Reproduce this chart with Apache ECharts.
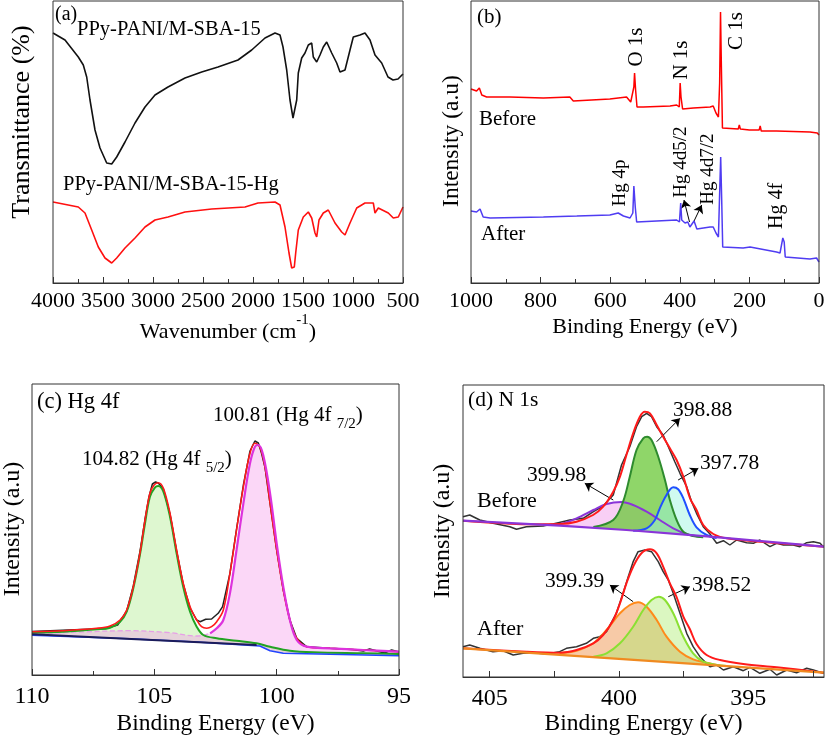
<!DOCTYPE html>
<html><head><meta charset="utf-8">
<script src="https://cdn.jsdelivr.net/npm/echarts@6/dist/echarts.min.js"></script>
<style>html,body{margin:0;padding:0;background:#fff}#c{width:827px;height:738px}</style>
</head><body><div id="c"></div>
<script>
// ---------- (a) FTIR ----------
const ftirWave = [4000,3880,3747,3697,3663,3630,3580,3530,3463,3413,3363,3280,3180,3080,2980,2850,2680,2513,2350,2150,2013,1880,1780,1730,1700,1663,1630,1600,1563,1547,1513,1480,1447,1413,1397,1363,1330,1297,1263,1213,1163,1130,1080,1030,997,930,880,830,780,713,650,600,550,500];
const ftirBefore = [250,243,226,218,206,183,153,135,120,119,126,141,160,176,188,196,205,211,216,223,233,245,250,248,236,213,183,165,183,210,225,230,238,240,226,221,228,236,241,230,220,211,213,233,246,248,250,243,228,220,206,203,204,209];
const ftirWaveHg = [4000,3747,3680,3613,3547,3480,3413,3363,3280,3180,3080,2980,2850,2680,2413,2080,1950,1780,1730,1680,1640,1613,1587,1573,1547,1497,1447,1413,1380,1363,1340,1297,1247,1180,1113,1080,1030,963,880,797,780,747,647,597,547,500];
const ftirAfter = [81,76,70,53,36,25,20,25,35,45,56,63,66,71,74,76,80,81,78,56,30,15,16,30,53,66,71,65,50,46,63,70,73,60,51,48,60,75,80,80,70,75,70,65,66,76];

// ---------- (b) XPS survey ----------
const surveyBeforeE = [1000,984,976,969,955,888,792,716,706,601,553,541,532,530,527,523,505,428,409,401.5,399,396.5,392,361,313,304,296,289,285.5,283,280.5,277.5,232,229,226,200,172,169,166,122,26,5,0];
const surveyBefore  = [194,192,195,188,186,186,185,186,182,184,186,181,196,210,193,176,176,177,178,176,200,186,174,175,176,177,170,166,200,271,216,155,154,158,154,153,153,157,152,152,151,150,148];
const surveyAfterE = [1000,984,974,965,945,792,696,601,577,562,543,535,532,528,524,409,401,397.4,394.5,385,377,371,359,351,313,304,296,289,285,282.5,279.6,276.7,218,198,122,112,107,104,100,97,26,7,0];
const surveyAfter  = [72,71,74,66,65,66,67,68,70,67,65,70,97,76,61,63,61,80,63,60,61,56,62,54,56,56,50,46,96,126,83,36,35,36,31,30,30,45,41,26,24,25,21];
const surveyArrowsE = [[372,388],[359,337]];
const surveyArrowsV = [[61,83],[62,78]];

// ---------- (c) Hg 4f ----------
const hgEnvE = [110,108.72,107.36,106.81,106.40,106.13,105.86,105.59,105.38,105.18,105.01,104.84,104.63,104.36,104.09,103.82,103.54,103.27,103.07,102.86,102.66,102.45,102.18,101.91,101.64,101.36,101.09,100.89,100.69,100.48,100.27,100.0,99.73,99.46,99.18,98.77,97.82,96.46,95];
const hgEnv  = [43.3,44.3,46.7,49,55,65,88.3,121.7,155,181.7,190,192.3,186.7,161.7,125,91.7,68.3,55,48.3,46.7,48.3,53.3,65,101.7,145,188.3,221.7,231.7,228.3,208.3,171.7,125,85,55,36.7,28.3,26.7,25,23.3];
const hgRawE = [110,108.5,107.0,106.5,106.13,105.86,105.59,105.38,105.22,105.08,104.95,104.84,104.63,104.36,104.09,103.82,103.54,103.27,103.13,102.9,102.66,102.39,102.21,101.91,101.64,101.36,101.09,100.89,100.75,100.62,100.48,100.27,100.0,99.73,99.46,99.18,98.77,97.82,96.9,96.46,96.2,95.6,95.3,95];
const hgRaw  = [43.5,45,46.5,50,64,89,123,156,178,191,193,192,186,161,124,91,67,55,53.3,55.7,56,61.7,68.3,101.7,146,190,224,234,232,222,208,171.7,125,85,55,36.7,28.3,26.7,25.5,24,26,22,25,23];
const hg52E = [110,108.72,107.36,106.81,106.40,106.13,105.86,105.59,105.38,105.18,104.97,104.84,104.63,104.36,104.09,103.82,103.54,103.27,103.0,102.45,101.64,100.82,100.27,99.46,98.5,96.46,95];
const hg52  = [42.3,43.3,45.7,47.3,53.3,63.3,86.7,120,151.7,178.3,187.7,189,183.3,158.3,121.7,88.3,63.3,48.3,40,36.7,34.3,31.7,28.3,24.3,22.7,21.7,21];
const hg72TailE = [110,108.04,106.0,104.36,103.27,102.72,102.45];
const hg72Tail  = [41,43,44.3,42.3,39,41.7,46.7];
const hg72E = [102.72,102.45,102.18,101.91,101.64,101.36,101.09,100.89,100.75,100.55,100.27,100.0,99.73,99.46,99.18,98.77,97.82,96.46,95];
const hg72  = [41.7,46.7,55,81.7,125,171.7,211.7,228.3,230,220,181.7,131.7,88.3,55,35,28.3,26.7,25,23.3];
const hgBgE = [110,106.0,103.27,100.69,100.27,99.73,97.82,95];
const hgBg  = [39.7,36.3,33,29,24.3,21.7,20.7,19.3];
const hgDarkE = [110,100.82];
const hgDark  = [40.7,30];

// ---------- (d) N 1s ----------
const dTickValues = [392.5,395,397.5,400,402.5,405];
const dTickLabels = [395,400,405];
const nBeforeBaseE = [406.03,402.29,399.71,396.48,392.07];
const nBeforeBase  = [156.3,151.3,147,140.3,130.3];
const nBeforeEnvE = [406.03,404.87,403.58,402.29,401.64,401.00,400.61,400.22,399.96,399.71,399.45,399.19,399.0,398.80,398.54,398.29,398.03,397.77,397.51,397.25,397.0,396.74,396.35,395.83,394.54,393.25,392.07];
const nBeforeEnv  = [156.3,154.3,152.7,153,155.3,162,170.3,185.3,200.3,222,243.7,260.3,265.3,263.7,252,240.3,228.7,217,200.3,178.7,167,152,143,138.7,135.3,132.7,130.3];
const nBeforeRawE = [406.03,405.77,405.38,404.87,404.22,403.96,403.58,402.93,402.55,401.90,401.38,400.99,400.61,400.22,399.90,399.83,399.58,399.32,399.12,398.93,398.74,398.54,398.29,398.09,397.84,397.64,397.38,397.19,397.00,396.74,396.48,396.22,395.96,395.71,395.45,395.06,394.80,394.55,394.16,393.90,393.64,393.26,393.00,392.74,392.48,392.22,392.10];
const nBeforeRaw  = [160.3,162,157,153.7,150.3,147.7,150.3,151,153,157,158.7,165.3,171,182,212,210.3,230.3,250.3,260.3,263.7,260.3,250.3,242,230.3,215.3,203.7,190.3,175.3,163.7,150.3,143,133.7,136.3,132,137,134.3,133.7,137,130.3,133.7,132,132,130.3,134.3,135.3,133.7,130.3];
const n39998E = [402.93,402.29,401.64,400.99,400.48,399.90,399.45,398.93,398.42,397.90,397.38,396.87];
const n39998  = [152.3,153,158.7,167,173,175,172,165.3,157,148.7,143,140.3];
const n39888E = [400.99,400.22,399.84,399.58,399.32,399.06,398.91,398.74,398.48,398.22,398.03,397.77,397.51,397.13,396.74];
const n39888  = [150,157,175.3,200.3,227,238.7,240.3,237,220.3,197,177,157,145.3,141,139.7];
const n39778E = [399.45,398.93,398.61,398.42,398.16,397.90,397.71,397.51,397.26,397.00,396.61,396.22];
const n39778  = [146.3,148.7,157,168.7,182,189.7,187.7,178.7,162,149.7,142,139];
const nAfterBaseE = [406.03,399.71,392.07];
const nAfterBase  = [28.7,17.7,4.3];
const nAfterEnvE = [406.03,403.58,402.29,401.64,400.99,400.61,400.22,399.96,399.71,399.45,399.13,398.80,398.54,398.29,398.03,397.77,397.51,397.26,397.00,396.61,396.09,395.19,393.90,392.07];
const nAfterEnv  = [28.7,25.3,24.3,27,33.7,42,57,73.7,93.7,110.3,123.7,127.7,123.7,110.3,93.7,80,60.3,48,33,22,17,13,9.7,4.3];
const nAfterRawE = [406.03,405.77,405.38,404.87,404.48,404.09,403.71,403.32,402.80,402.29,402.03,401.64,401.26,400.99,400.74,400.48,400.10,399.84,399.64,399.45,399.26,399.0,398.74,398.48,398.29,398.09,397.90,397.64,397.38,397.13,396.87,396.48,396.22,395.96,395.58,395.19,394.93,394.55,394.16,393.90,393.51,393.13,392.74,392.48,392.10];
const nAfterRaw  = [30.3,32,28.7,25.3,26.3,22,23.7,24.3,23,25.3,28.7,30.3,33.7,38.7,40.3,45.3,63.7,83.7,100.3,115.3,125.3,127,125.3,115.3,105.3,97,83.7,63.7,43.7,30.3,20.3,10.3,12,7,10.3,6.3,9.7,3.7,7.7,2,7,4.3,8.7,7,3.7];
const n39939E = [402.29,401.64,400.99,400.48,399.96,399.58,399.26,398.93,398.54,398.16,397.64,397.13,396.61,396.09];
const n39939  = [24,26.3,33.7,47,63.7,72,74.7,70.3,57,40.3,25.3,17.7,14.3,11.3];
const n39852E = [400.99,400.48,399.96,399.45,399.06,398.74,398.46,398.22,397.90,397.51,397.13,396.74,396.22,395.83];
const n39852  = [20.3,23.7,33.7,50.3,67,77,80.3,77,63.7,40.3,23.7,15.3,12,11];
const nArrowsE = [[398.54,397.64],[397.71,396.93],[400.22,401.32],[399.45,400.35],[398.09,397.26]];
const nArrowsV = [[235.3,258.7],[197,208.7],[177,193.7],[75.3,92],[80.3,90.3]];

// ---------- build ----------
const F = 'Liberation Serif';
const zip = (xs, ys) => xs.map((x, i) => [x, ys[i]]);
function line(gi, xs, ys, color, width, extra) {
  return Object.assign({type:'line', xAxisIndex:gi, yAxisIndex:gi, data:zip(xs, ys), symbol:'none', showSymbol:false,
    silent:true, animation:false, z:6, lineStyle:{color:color, width:width}, itemStyle:{color:color}}, extra || {});
}
function fill(gi, xs, ys, color, z, smooth) {
  return {type:'line', xAxisIndex:gi, yAxisIndex:gi, data:zip(xs, ys), symbol:'none', showSymbol:false, silent:true,
    animation:false, z:z, smooth:smooth, lineStyle:{width:0, opacity:0}, areaStyle:{color:color, opacity:1}};
}
function arrows(es, vs) {
  return {silent:true, symbol:['none','arrow'], symbolSize:8, animation:false,
    lineStyle:{color:'#000', width:1, type:'solid'}, label:{show:false},
    data: es.map((e, i) => [{coord:[e[0], vs[i][0]]}, {coord:[e[1], vs[i][1]]}])};
}
const S = 0.35;

const series = [
  line(0, ftirWave, ftirBefore, '#111', 1.6),
  line(0, ftirWaveHg, ftirAfter, '#ff1010', 1.6),
  line(1, surveyBeforeE, surveyBefore, '#ff0000', 1.5),
  line(1, surveyAfterE, surveyAfter, '#4f3cf2', 1.5, {markLine: arrows(surveyArrowsE, surveyArrowsV)}),
  fill(2, hg52E, hg52, 'rgba(160,232,120,0.35)', 2, S),
  fill(2, hg72TailE.concat(hg72E.slice(2)), hg72Tail.concat(hg72.slice(2)), 'rgba(245,150,235,0.38)', 2, S),
  fill(2, hgBgE, hgBg, '#ffffff', 3, false),
  line(2, hgRawE, hgRaw, '#222', 1.5),
  line(2, hg72TailE, hg72Tail, '#e6a0e6', 1.3, {smooth:S, lineStyle:{color:'#e6a0e6', width:1.3, type:'dashed'}}),
  line(2, hg52E, hg52, '#22a322', 2, {smooth:S}),
  line(2, hgEnvE, hgEnv, '#ff1a1a', 1.6, {smooth:S}),
  line(2, hg72E, hg72, '#dd33dd', 2.2, {smooth:S}),
  line(2, hgBgE, hgBg, '#2244ff', 1.5),
  line(2, hgDarkE, hgDark, '#1c1c5a', 2),
  fill(3, n39998E, n39998, 'rgba(242,160,235,0.5)', 2, S),
  fill(3, n39888E, n39888, 'rgba(105,200,55,0.75)', 2, S),
  fill(3, n39778E, n39778, 'rgba(160,245,225,0.5)', 2, S),
  fill(3, nBeforeBaseE, nBeforeBase, '#ffffff', 3, false),
  fill(3, n39939E, n39939, 'rgba(240,150,80,0.5)', 4, S),
  fill(3, n39852E, n39852, 'rgba(165,235,100,0.4)', 4, S),
  fill(3, nAfterBaseE, nAfterBase, '#ffffff', 5, false),
  line(3, nBeforeRawE, nBeforeRaw, '#333', 1.5),
  line(3, n39998E, n39998, '#8a35d8', 2, {smooth:S}),
  line(3, n39888E, n39888, '#2e8b2e', 2, {smooth:S}),
  line(3, n39778E, n39778, '#1f50ff', 2, {smooth:S}),
  line(3, nBeforeEnvE, nBeforeEnv, '#ff1a1a', 2, {smooth:S}),
  line(3, nBeforeBaseE, nBeforeBase, '#8a35d8', 2.2),
  line(3, nAfterRawE, nAfterRaw, '#333', 1.5),
  line(3, n39939E, n39939, '#ff8a1a', 2, {smooth:S}),
  line(3, n39852E, n39852, '#8ae033', 2, {smooth:S}),
  line(3, nAfterEnvE, nAfterEnv, '#ff1a1a', 2, {smooth:S}),
  line(3, nAfterBaseE, nAfterBase, '#f08a20', 2.2, {markLine: arrows(nArrowsE, nArrowsV)})
];

const plain = v => String(v);
function xAx(gi, o) {
  return Object.assign({
    type:'value', gridIndex:gi, inverse:true, z:20, nameLocation:'middle',
    nameTextStyle:{fontFamily:F, fontSize:o.nfs, color:'#000'},
    axisLine:{onZero:false, lineStyle:{color:'#333', width:1}},
    axisTick:{inside:true, length:6, lineStyle:{color:'#333'}},
    minorTick:{show:true, splitNumber:2, length:4, lineStyle:{color:'#333'}},
    splitLine:{show:false}, minorSplitLine:{show:false},
    axisLabel:{fontFamily:F, fontSize:o.fs, color:'#000', margin:o.margin, formatter:plain,
      showMinLabel:true, showMaxLabel:true, hideOverlap:false}
  }, o.extra);
}
const xAxis = [
  xAx(0, {fs:22, nfs:22, margin:7, extra:{min:500, max:4000, interval:500, nameGap:24,
    name:'{m|Wavenumber (cm}{sup|-1}{m|)}',
    nameTextStyle:{fontFamily:F, fontSize:22, color:'#000', rich:{
      m:{fontFamily:F, fontSize:22, color:'#000', lineHeight:30, verticalAlign:'bottom'},
      sup:{fontFamily:F, fontSize:15, color:'#000', lineHeight:14, verticalAlign:'top'}}}}}),
  xAx(1, {fs:22, nfs:22, margin:7, extra:{min:0, max:1000, interval:200, name:'Binding Energy (eV)', nameGap:33}}),
  xAx(2, {fs:24, nfs:23.5, margin:10, extra:{min:95, max:110, interval:5, name:'Binding Energy (eV)', nameGap:37}}),
  xAx(3, {fs:24, nfs:23.5, margin:10, extra:{min:392.07, max:406.03, name:'Binding Energy (eV)', nameGap:35,
    minorTick:{show:false},
    axisTick:{inside:true, length:6, lineStyle:{color:'#333'}, customValues:dTickValues},
    axisLabel:{fontFamily:F, fontSize:24, color:'#000', margin:10, formatter:plain, customValues:dTickLabels}}})
];
const yMax = [282, 282, 291, 292];
const yAxis = yMax.map((m, i) => ({type:'value', gridIndex:i, min:0, max:m, show:true,
  axisLine:{show:false}, axisTick:{show:false}, axisLabel:{show:false}, splitLine:{show:false}}));

const gridBase = {show:true, borderColor:'#333', borderWidth:1, backgroundColor:'transparent', z:20, containLabel:false, outerBoundsMode:'none'};
const grid = [
  Object.assign({left:53, top:1, width:350, height:282}, gridBase),
  Object.assign({left:471, top:1, width:348, height:282}, gridBase),
  Object.assign({left:32, top:384, width:367, height:291}, gridBase),
  Object.assign({left:463, top:385, width:361, height:292}, gridBase)
];

function T(x, y, text, size, o) {
  o = o || {};
  const st = {text:text, fontFamily:F, fontSize:size, fill:'#000', align:o.align || 'left', verticalAlign:o.va || 'middle'};
  if (o.rich) st.rich = o.rich;
  return {type:'text', x:x, y:y, rotation:o.rot || 0, silent:true, z:100, style:st};
}
const R = Math.PI / 2;
const subRich = {
  m:{fontFamily:F, fontSize:21, lineHeight:22, verticalAlign:'top', fill:'#000'},
  s:{fontFamily:F, fontSize:15, lineHeight:27, verticalAlign:'bottom', fill:'#000'}
};
const graphic = [
  T(55, 15, '(a)', 20),
  T(77, 30, 'PPy-PANI/M-SBA-15', 20.5),
  T(63, 185, 'PPy-PANI/M-SBA-15-Hg', 20.5),
  T(22, 122, 'Transmittance (%)', 26, {rot:R, align:'center'}),
  T(477, 17, '(b)', 21),
  T(479, 119, 'Before', 21),
  T(481, 234, 'After', 21),
  T(636, 47, 'O 1s', 21, {rot:R, align:'center'}),
  T(681, 60, 'N 1s', 21, {rot:R, align:'center'}),
  T(736, 31, 'C 1s', 21, {rot:R, align:'center'}),
  T(620, 183, 'Hg 4p', 19, {rot:R, align:'center'}),
  T(681, 162, 'Hg 4d5/2', 19, {rot:R, align:'center'}),
  T(708, 169, 'Hg 4d7/2', 19, {rot:R, align:'center'}),
  T(777, 206, 'Hg 4f', 20, {rot:R, align:'center'}),
  T(452, 141, 'Intensity (a.u)', 23.5, {rot:R, align:'center'}),
  T(37, 402, '(c) Hg 4f', 22.5),
  T(82, 449, '{m|104.82 (Hg 4f }{s|5/2}{m|)}', 21, {va:'top', rich:subRich}),
  T(213, 405, '{m|100.81 (Hg 4f }{s|7/2}{m|)}', 21, {va:'top', rich:subRich}),
  T(13, 529, 'Intensity (a.u)', 24, {rot:R, align:'center'}),
  T(468, 400, '(d) N 1s', 21.5),
  T(673, 410, '398.88', 21.5),
  T(700, 463, '397.78', 21.5),
  T(527, 475, '399.98', 21.5),
  T(477, 501, 'Before', 22),
  T(545, 581, '399.39', 21.5),
  T(692, 585, '398.52', 21.5),
  T(477, 629, 'After', 22),
  T(443, 531, 'Intensity (a.u)', 24, {rot:R, align:'center'})
];

const chart = echarts.init(document.getElementById('c'), null, {renderer:'canvas', width:827, height:738});
chart.setOption({animation:false, backgroundColor:'#fff', textStyle:{fontFamily:F},
  grid:grid, xAxis:xAxis, yAxis:yAxis, series:series, graphic:graphic});
</script>
</body></html>
